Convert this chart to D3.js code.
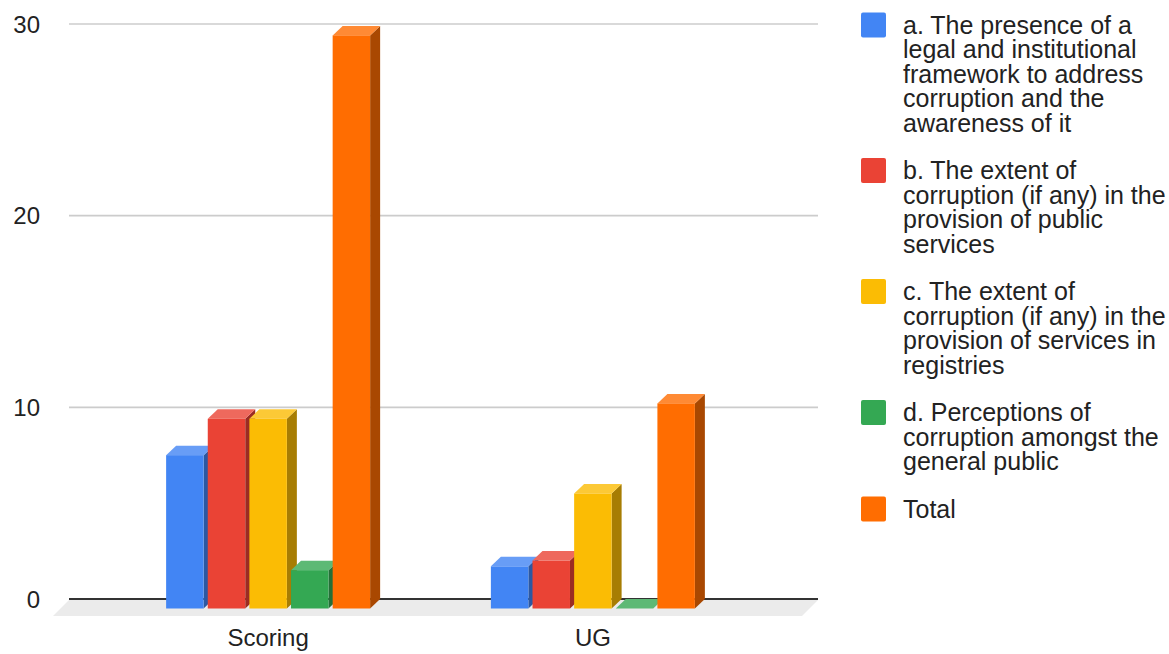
<!DOCTYPE html>
<html>
<head>
<meta charset="utf-8">
<script src="https://cdn.jsdelivr.net/npm/d3@7"></script>
<style>
  html, body { margin: 0; padding: 0; background: #fff; }
  svg { display: block; font-family: "Liberation Sans", Arial, sans-serif; }
</style>
</head>
<body>
<svg id="chart" width="1169" height="654"></svg>
<script>
// ---- data ----
const categories = ["Scoring", "UG"];
const seriesNames = [
  "a. The presence of a legal and institutional framework to address corruption and the awareness of it",
  "b. The extent of corruption (if any) in the provision of public services",
  "c. The extent of corruption (if any) in the provision of services in registries",
  "d. Perceptions of corruption amongst the general public",
  "Total"
];
const legendLines = [
  ["a. The presence of a", "legal and institutional", "framework to address", "corruption and the", "awareness of it"],
  ["b. The extent of", "corruption (if any) in the", "provision of public", "services"],
  ["c. The extent of", "corruption (if any) in the", "provision of services in", "registries"],
  ["d. Perceptions of", "corruption amongst the", "general public"],
  ["Total"]
];
const seriesA = [8, 2.2];
const seriesB = [9.9, 2.5];
const seriesC = [9.9, 6];
const seriesD = [2, 0];
const seriesTotal = [29.9, 10.7];
const yTicks = [0, 10, 20, 30];

const seriesValues = [seriesA, seriesB, seriesC, seriesD, seriesTotal];
const colors = ["#4285F4", "#EA4335", "#FBBC04", "#34A853", "#FF6D01"];

// ---- layout ----
const svg = d3.select("#chart");
const backLeft = 69, backRight = 818;
const depthX = 10, depthY = 9.5;      // bar depth offset (front is left/down)
const floorX = 16, floorY = 17;       // floor depth

const y = d3.scaleLinear().domain([0, 30]).range([599, 24]);
const x = d3.scaleBand().domain(categories).range([115.75, 765.25]).paddingInner(0).paddingOuter(0);
const groupWidth = 204;
const xs = d3.scaleBand().domain(d3.range(seriesNames.length))
  .range([-groupWidth / 2, groupWidth / 2]).paddingInner(0.1).paddingOuter(0);

// gridlines (back plane)
svg.append("g").selectAll("line").data(yTicks.filter(t => t !== 0)).join("line")
  .attr("x1", backLeft).attr("x2", backRight)
  .attr("y1", d => y(d)).attr("y2", d => y(d))
  .attr("stroke", "#cccccc").attr("stroke-width", 1.6);

// floor
const y0 = y(0);
svg.append("path")
  .attr("d", d3.line()([[backLeft, y0 + 1], [backRight, y0 + 1], [backRight - floorX, y0 + floorY], [backLeft - floorX, y0 + floorY]]) + "Z")
  .attr("fill", "#ebebeb");
// baseline
svg.append("line")
  .attr("x1", backLeft).attr("x2", backRight).attr("y1", y0).attr("y2", y0)
  .attr("stroke", "#333").attr("stroke-width", 2);

// y labels
svg.append("g").selectAll("text").data(yTicks).join("text")
  .attr("x", 40).attr("y", d => y(d) + 8.5)
  .attr("text-anchor", "end").attr("font-size", 24).attr("fill", "#222")
  .text(d => d);

// bars
const shade = (c, k) => d3.rgb(c).darker(k).formatHex();
const tint = (c, t) => d3.interpolateRgb(c, "#ffffff")(t);
const barsG = svg.append("g");
categories.forEach((cat, ci) => {
  seriesValues.forEach((vals, si) => {
    const v = vals[ci];
    const bx = x(cat) + x.bandwidth() / 2 + xs(si);  // back-left x
    const w = xs.bandwidth();
    const fx = bx - depthX;
    const fb = y(0) + depthY;
    const ft = y(v) + depthY;
    const g = barsG.append("g");
    const col = colors[si];
    // side face
    if (v > 0) {
      g.append("path")
        .attr("d", d3.line()([[fx + w, ft], [fx + w + depthX, ft - depthY], [fx + w + depthX, fb - depthY], [fx + w, fb]]) + "Z")
        .attr("fill", shade(col, 1.15));
    }
    // top face
    g.append("path")
      .attr("d", d3.line()([[fx, ft], [fx + w, ft], [fx + w + depthX, ft - depthY], [fx + depthX, ft - depthY]]) + "Z")
      .attr("fill", tint(col, 0.2));
    // front face
    if (v > 0) {
      g.append("rect")
        .attr("x", fx).attr("y", ft).attr("width", w).attr("height", fb - ft)
        .attr("fill", col);
    }
  });
});

// category labels
svg.append("g").selectAll("text").data(categories).join("text")
  .attr("x", d => x(d) + x.bandwidth() / 2 - depthX)
  .attr("y", 646)
  .attr("text-anchor", "middle").attr("font-size", 24).attr("fill", "#222")
  .text(d => d);

// legend
const legend = svg.append("g");
const lineH = 24.5, gap = 23;
let itemTop = 12.5;
legendLines.forEach((lines, i) => {
  const g = legend.append("g");
  g.append("rect").attr("x", 861).attr("y", itemTop).attr("width", 25).attr("height", 25)
    .attr("rx", 2).attr("fill", colors[i]);
  const t0 = itemTop;
  g.append("text").attr("font-size", 25).attr("fill", "#222")
    .selectAll("tspan").data(lines).join("tspan")
    .attr("x", 903).attr("y", (d, j) => t0 + 21 + j * lineH)
    .text(d => d);
  itemTop += lines.length * lineH + gap;
});
</script>
</body>
</html>
